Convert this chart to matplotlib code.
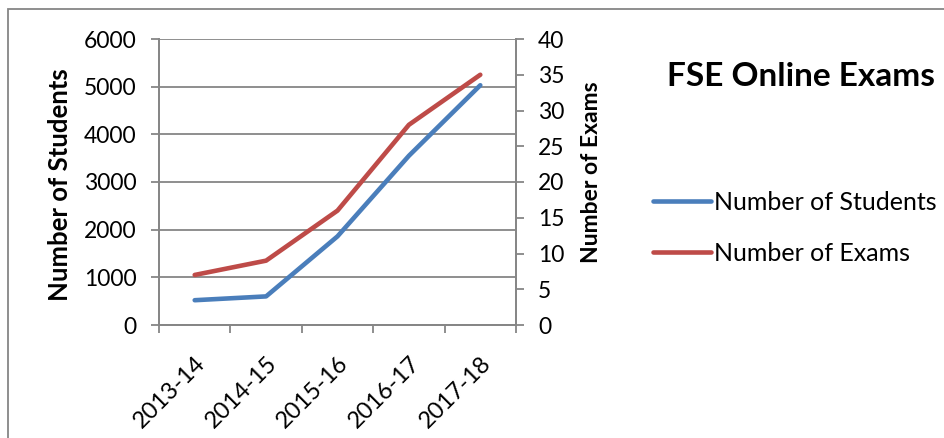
import matplotlib.pyplot as plt
from matplotlib.patches import Rectangle

years = ["2013-14", "2014-15", "2015-16", "2016-17", "2017-18"]
students = [520, 600, 1860, 3550, 5030]
exams = [7, 9, 16, 28, 35]

plt.rcParams["font.family"] = ["Lato", "DejaVu Sans"]

fig = plt.figure(figsize=(9.45, 4.38), dpi=100)
ax = fig.add_axes([159 / 945, 1 - 325 / 438, 357 / 945, 286 / 438])
ax2 = ax.twinx()

grey = "#868686"
x = [i + 0.5 for i in range(len(years))]

ax.plot(x, students, color="#4A7EBB", lw=3.3, solid_capstyle="round", label="Number of Students")
ax2.plot(x, exams, color="#BE4B48", lw=3.3, solid_capstyle="round", label="Number of Exams")

ax.set_xlim(0, len(years))
ax.set_ylim(0, 6000)
ax2.set_ylim(0, 40)
ax.set_yticks(range(0, 6001, 1000))
ax2.set_yticks(range(0, 41, 5))
ax.set_xticks(range(len(years) + 1))
ax.set_xticklabels([])
ax.set_xticks(x, minor=True)
ax.set_xticklabels(years, minor=True, rotation=45, ha="right", rotation_mode="anchor", fontsize=17)
ax.tick_params(axis="x", which="minor", length=0, pad=20)

ax.grid(axis="y", color=grey, lw=1.3)
ax.set_axisbelow(True)
for a in (ax, ax2):
    for s in a.spines.values():
        s.set_color(grey)
        s.set_linewidth(1.3)
    a.spines["top"].set_visible(False)
    a.tick_params(which="major", color=grey, width=1.3, length=6, pad=10, labelsize=16.5)

fig.text(60 / 945, 1 - 185 / 438, "Number of Students", fontsize=18.5, fontweight="bold",
         rotation=90, ha="center", va="center")
fig.text(592 / 945, 1 - 172 / 438, "Number of Exams", fontsize=16.5, fontweight="bold",
         rotation=90, ha="center", va="center")

fig.text(801 / 945, 1 - 77 / 438, "FSE Online Exams", fontsize=24, fontweight="bold",
         ha="center", va="center")

h1, l1 = ax.get_legend_handles_labels()
h2, l2 = ax2.get_legend_handles_labels()
fig.legend(h1 + h2, l1 + l2, loc="center left", bbox_to_anchor=(631 / 945, 1 - 228 / 438),
           frameon=False, fontsize=18, handlelength=2.3, handletextpad=0.12, labelspacing=1.13)

fig.patches.append(Rectangle((8 / 945, -0.1), 1.2, 1 - 9 / 438 + 0.1, transform=fig.transFigure,
                             fill=False, edgecolor=grey, lw=1.3))

fig.savefig("out.png", dpi=100)
